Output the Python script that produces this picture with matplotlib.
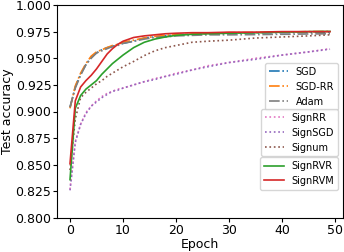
import matplotlib
matplotlib.use('Agg')
import matplotlib.pyplot as plt

epochs = [0, 1, 2, 3, 4, 5, 6, 7, 8, 9, 10, 12, 14, 16, 18, 20, 23, 26, 30, 35, 40, 45, 49]

sgd = [0.904, 0.923, 0.935, 0.944, 0.951, 0.955, 0.958, 0.960, 0.961, 0.963, 0.964, 0.966,
       0.969, 0.970, 0.971, 0.972, 0.9725, 0.973, 0.9735, 0.9738, 0.974, 0.9742, 0.9745]
sgd_rr = [0.903, 0.924, 0.936, 0.945, 0.952, 0.956, 0.958, 0.960, 0.962, 0.963, 0.965, 0.967,
          0.969, 0.9705, 0.9715, 0.972, 0.9728, 0.9735, 0.974, 0.9742, 0.9745, 0.975, 0.9752]
adam = [0.904, 0.922, 0.934, 0.944, 0.950, 0.955, 0.957, 0.959, 0.961, 0.962, 0.964, 0.966,
        0.968, 0.9695, 0.970, 0.971, 0.9715, 0.972, 0.972, 0.9722, 0.9725, 0.9728, 0.973]

sign_rr = [0.827, 0.872, 0.888, 0.899, 0.905, 0.910, 0.914, 0.917, 0.919, 0.921, 0.922, 0.925,
           0.928, 0.931, 0.933, 0.936, 0.939, 0.943, 0.946, 0.950, 0.953, 0.956, 0.959]
sign_sgd = [0.826, 0.871, 0.888, 0.898, 0.905, 0.909, 0.913, 0.916, 0.919, 0.920, 0.922, 0.925,
            0.928, 0.930, 0.933, 0.935, 0.939, 0.942, 0.946, 0.949, 0.953, 0.956, 0.9585]
signum = [0.845, 0.893, 0.913, 0.918, 0.922, 0.926, 0.929, 0.933, 0.936, 0.939, 0.942, 0.947,
          0.9525, 0.957, 0.960, 0.962, 0.965, 0.966, 0.967, 0.969, 0.970, 0.971, 0.972]

sign_rvr = [0.836, 0.903, 0.915, 0.921, 0.925, 0.929, 0.935, 0.940, 0.945, 0.949, 0.953, 0.960,
            0.965, 0.968, 0.970, 0.9715, 0.9725, 0.973, 0.9735, 0.974, 0.9745, 0.975, 0.9752]
sign_rvm = [0.851, 0.910, 0.923, 0.929, 0.934, 0.940, 0.947, 0.954, 0.959, 0.963, 0.966, 0.9695,
            0.971, 0.972, 0.973, 0.9735, 0.974, 0.974, 0.9745, 0.9745, 0.975, 0.975, 0.975]

plt.rcParams['font.size'] = 9
plt.rcParams['xtick.major.size'] = 3
plt.rcParams['ytick.major.size'] = 3
plt.rcParams['xtick.major.pad'] = 1
plt.rcParams['ytick.major.pad'] = 1

fig = plt.figure(figsize=(3.44, 2.52), dpi=100)
ax = fig.add_axes([57 / 344, 34 / 252, 286 / 344, 213 / 252])

lw = 1.2
l1 = ax.plot(epochs, sgd, color='tab:blue', ls='-.', lw=lw, label='SGD')[0]
l2 = ax.plot(epochs, sgd_rr, color='tab:orange', ls='-.', lw=lw, label='SGD-RR')[0]
l3 = ax.plot(epochs, adam, color='tab:gray', ls='-.', lw=lw, label='Adam')[0]
l4 = ax.plot(epochs, sign_rr, color='tab:pink', ls=':', lw=lw, label='SignRR')[0]
l5 = ax.plot(epochs, sign_sgd, color='tab:purple', ls=':', lw=lw, label='SignSGD')[0]
l6 = ax.plot(epochs, signum, color='tab:brown', ls=':', lw=lw, label='Signum')[0]
l7 = ax.plot(epochs, sign_rvr, color='tab:green', lw=lw, label='SignRVR')[0]
l8 = ax.plot(epochs, sign_rvm, color='tab:red', lw=lw, label='SignRVM')[0]

ax.set_ylim(0.8, 1.0)
ax.set_xlabel('Epoch', labelpad=1)
ax.set_ylabel('Test accuracy', labelpad=1)

# three stacked legends on the right
leg_kw = dict(loc='upper right', fontsize=7, borderaxespad=0)
leg1 = ax.legend(handles=[l1, l2, l3], bbox_to_anchor=(0.983, 0.728), **leg_kw)
ax.add_artist(leg1)
leg2 = ax.legend(handles=[l4, l5, l6], bbox_to_anchor=(0.983, 0.512), **leg_kw)
ax.add_artist(leg2)
ax.legend(handles=[l7, l8], bbox_to_anchor=(0.983, 0.286), **leg_kw)

fig.savefig('out.png', dpi=100)
